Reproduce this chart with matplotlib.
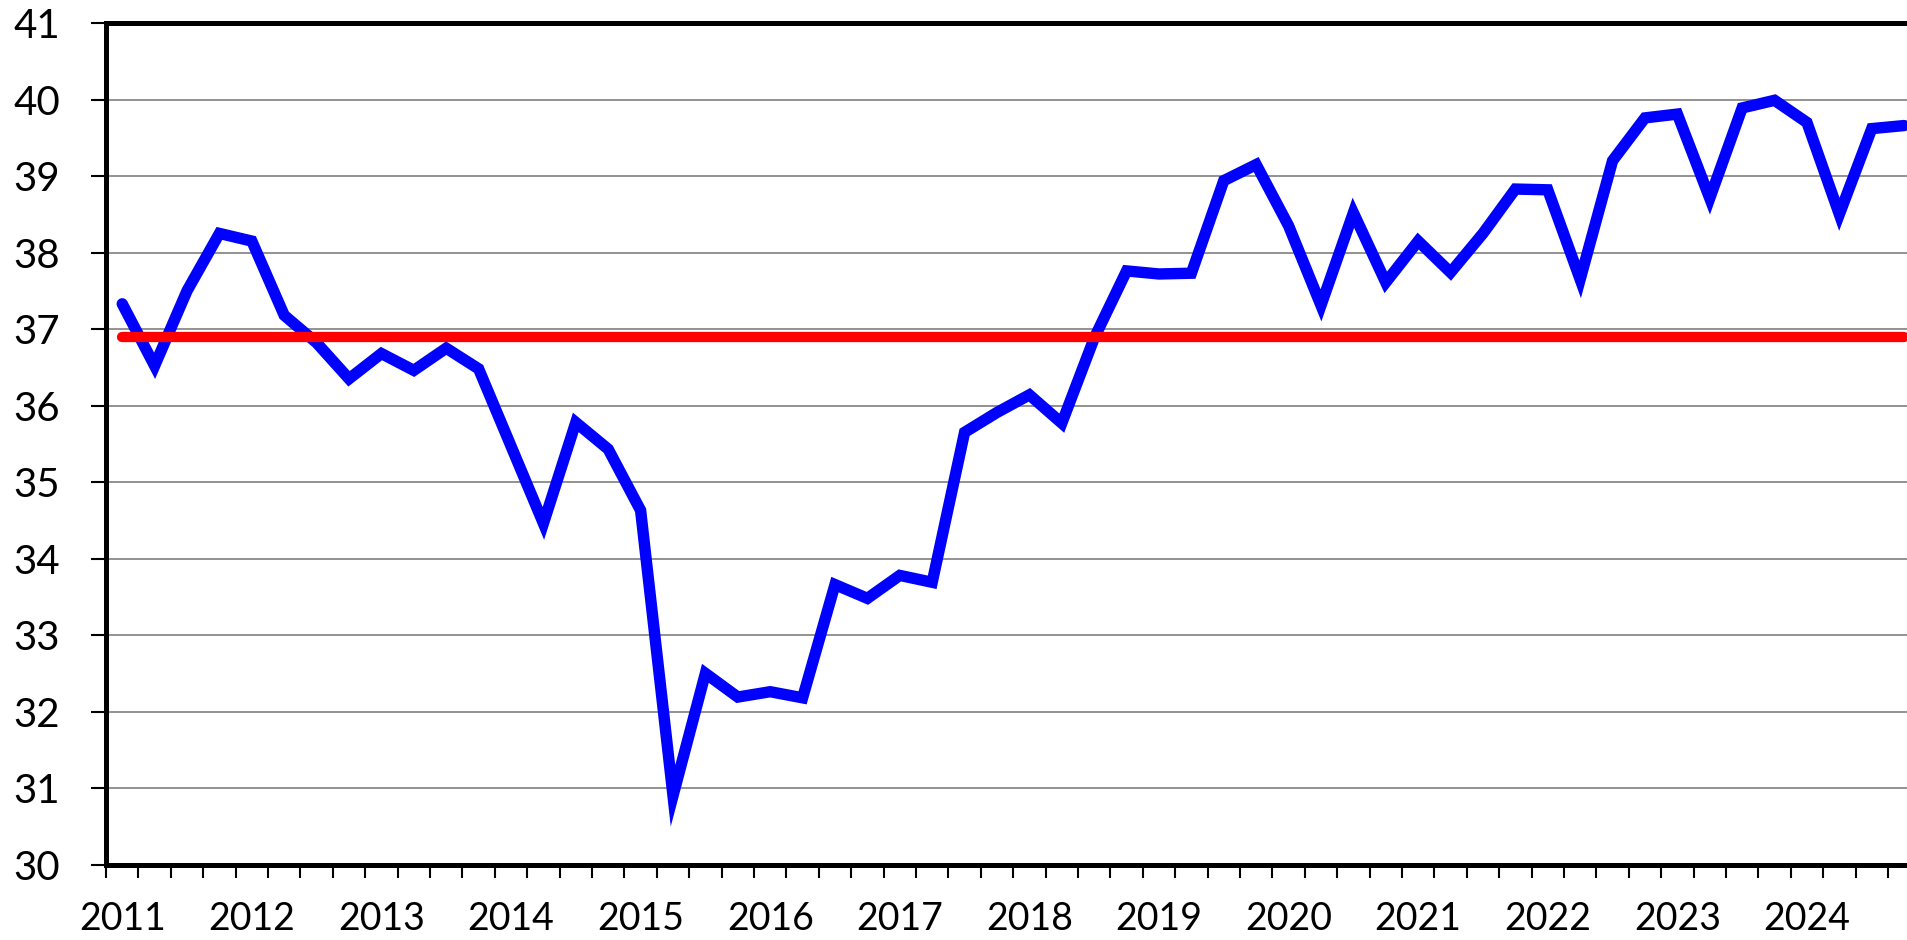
import numpy as np
import matplotlib.pyplot as plt

plt.rcParams["font.family"] = ["Lato", "DejaVu Sans"]

# ---- datos trimestrales ----
anios = list(range(2011, 2025))
trimestres = [f"{a}T{q}" for a in anios for q in range(1, 5)]

serie = [
    37.33, 36.52, 37.50, 38.25,   # 2011
    38.15, 37.18, 36.82, 36.35,   # 2012
    36.68, 36.46, 36.75, 36.48,   # 2013
    35.47, 34.46, 35.78, 35.43,   # 2014
    34.63, 30.90, 32.50, 32.19,   # 2015
    32.26, 32.18, 33.66, 33.48,   # 2016
    33.78, 33.69, 35.65, 35.91,   # 2017
    36.14, 35.77, 36.88, 37.76,   # 2018
    37.72, 37.73, 38.94, 39.15,   # 2019
    38.35, 37.31, 38.52, 37.61,   # 2020
    38.15, 37.74, 38.25, 38.83,   # 2021
    38.82, 37.65, 39.20, 39.76,   # 2022
    39.81, 38.71, 39.89, 39.99,   # 2023
    39.70, 38.50, 39.62, 39.66,   # 2024
]
promedio = 36.9

etiquetas_x = [str(a) for a in anios]
valores_y = list(range(30, 42))

x = np.arange(len(trimestres))

# ---- figura ----
fig = plt.figure(figsize=(19.07, 9.40), dpi=100)
# el área de trazado sigue un poco más allá del borde derecho (recortada)
ax = fig.add_axes([0.0556, 0.0802, 0.9514, 0.8953])

ax.plot(x, serie, color="#0000ff", lw=8.2,
        solid_joinstyle="miter", solid_capstyle="round", zorder=3)
ax.plot(x, [promedio] * len(x), color="#ff0000", lw=7.4,
        solid_capstyle="round", zorder=4)

ax.set_xlim(-0.5, len(x) - 0.5)
ax.set_ylim(30, 41)

# marcas entre trimestres, etiqueta del año centrada en el 1er trimestre
ax.set_xticks(np.arange(-0.5, len(x), 1))
ax.set_xticks(x[::4], minor=True)
ax.set_xticklabels(etiquetas_x, minor=True)
ax.tick_params(axis="x", which="major", length=9, width=1.5,
               labelbottom=False, color="black")
ax.tick_params(axis="x", which="minor", length=0, pad=26, labelsize=27)

ax.set_yticks(valores_y)
ax.tick_params(axis="y", length=10.8, width=1.5, pad=22.5, labelsize=29)

ax.grid(axis="y", color="#898989", lw=1.3)
ax.set_axisbelow(True)

for lado in ["left", "bottom", "top"]:
    ax.spines[lado].set_linewidth(3.6)
    ax.spines[lado].set_color("black")
ax.spines["right"].set_visible(False)

fig.savefig("out.png", dpi=100)
